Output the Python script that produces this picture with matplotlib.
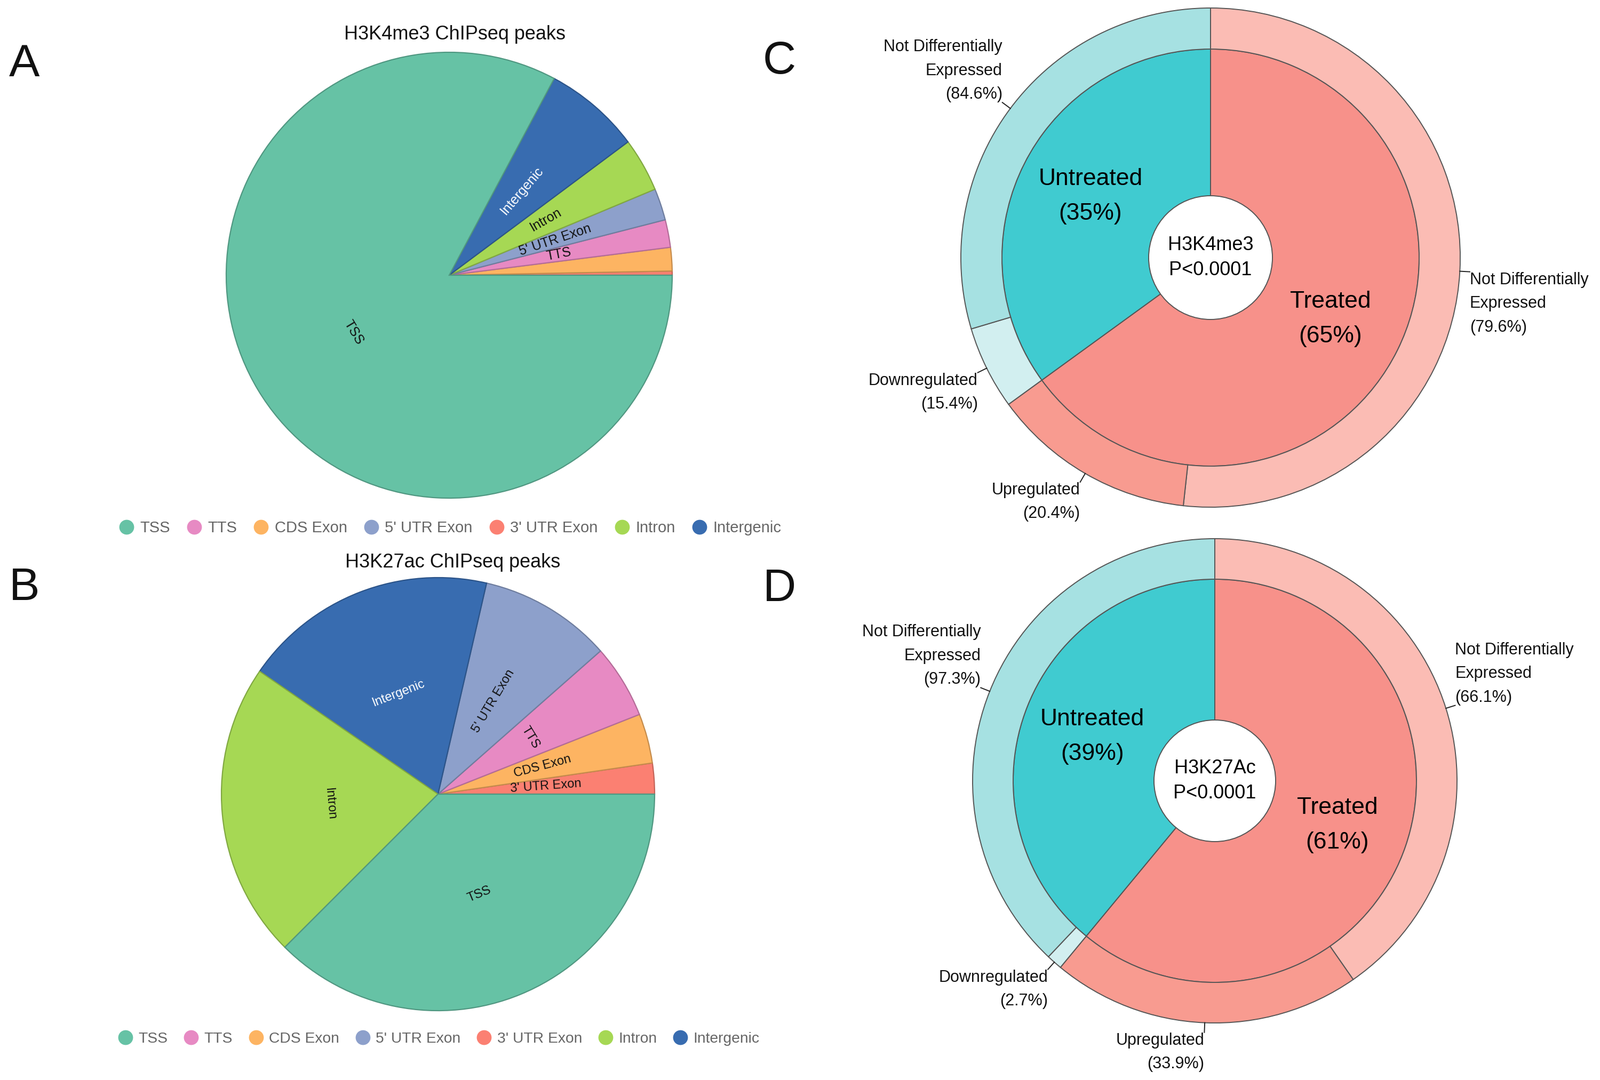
import numpy as np
import matplotlib
matplotlib.use("Agg")
import matplotlib.pyplot as plt
import matplotlib.colors as mcolors
from matplotlib.lines import Line2D
from matplotlib.patches import Circle

plt.rcParams['font.family'] = ['Liberation Sans', 'DejaVu Sans']

# ---------------- data ----------------
annotations = ['TSS', 'TTS', 'CDS Exon', "5' UTR Exon", "3' UTR Exon", 'Intron', 'Intergenic']
annotation_colors = ['#66c2a5', '#e78ac3', '#fdb462', '#8da0cb', '#fb8072', '#a6d854', '#386cb0']
h3k4me3_share = [82.8, 2.0, 1.7, 2.3, 0.3, 3.9, 7.0]
h3k27ac_share = [37.5, 5.5, 3.7, 9.9, 2.3, 22.1, 19.0]
# orientation of the in-slice label (None = slice not labelled)
h3k4me3_label_mode = ['tangential', 'radial', None, 'radial', None, 'radial', 'radial']
h3k27ac_label_mode = ['tangential', 'tangential', 'radial', 'radial', 'radial', 'tangential', 'tangential']

groups = ['Treated', 'Untreated']
h3k4me3_group_pct = [65, 35]
h3k27ac_group_pct = [61, 39]
outer_names = ['Not Differentially\nExpressed', 'Upregulated', 'Downregulated', 'Not Differentially\nExpressed']
h3k4me3_treated_split = [79.6, 20.4]     # Not DE, Upregulated
h3k4me3_untreated_split = [15.4, 84.6]   # Downregulated, Not DE
h3k27ac_treated_split = [66.1, 33.9]
h3k27ac_untreated_split = [2.7, 97.3]

W, H = 2999, 2025
fig = plt.figure(figsize=(W / 100, H / 100), dpi=100)
ax = fig.add_axes([0, 0, 1, 1])


def img(x, y):
    return x, H - y


def darker(c, f=0.78):
    r, g, b = mcolors.to_rgb(c)
    return (r * f, g * f, b * f)


def draw_pie(shares, modes, center, radius, fs, title, title_xy, legend_xy, legend_fs):
    order = sorted(range(len(shares)), key=lambda i: shares[i])
    vals = [shares[i] for i in order]
    cols = [annotation_colors[i] for i in order]
    wedges, _ = ax.pie(vals, colors=cols, startangle=0, counterclock=True,
                       center=center, radius=radius,
                       wedgeprops=dict(linewidth=1.6))
    for w, i in zip(wedges, order):
        w.set_edgecolor(darker(annotation_colors[i]))
        mode = modes[i]
        if mode is None:
            continue
        mid = (w.theta1 + w.theta2) / 2.0
        rad = np.deg2rad(mid)
        x = center[0] + 0.5 * radius * np.cos(rad)
        y = center[1] + 0.5 * radius * np.sin(rad)
        rot = mid if mode == 'radial' else mid - 90
        rot = (rot + 180) % 360 - 180
        if rot > 90:
            rot -= 180
        elif rot < -90:
            rot += 180
        color = 'white' if annotations[i] == 'Intergenic' else '#111111'
        ax.text(x, y, annotations[i], rotation=rot, rotation_mode='anchor',
                ha='center', va='center', fontsize=fs, color=color)
    ax.text(*img(*title_xy), title, ha='center', va='center', fontsize=26, color='#111111')
    handles = [Line2D([], [], marker='o', ls='', color=c, markersize=19) for c in annotation_colors]
    fig.legend(handles, annotations, loc='center',
               bbox_to_anchor=(legend_xy[0] / W, 1 - legend_xy[1] / H),
               ncol=7, frameon=False, fontsize=legend_fs, handlelength=0.9,
               handletextpad=0.42, columnspacing=1.1, labelcolor='#666666')


def draw_donut(center, r_in, r_out, r_hole, group_pct, t_split, u_split, center_text):
    edge = '#555555'
    inner_cols = ['#f7918a', '#40cbd0']
    outer_cols = ['#fbbcb4', '#f89b90', '#d2eff0', '#a6e1e2']
    inner, _ = ax.pie(group_pct, colors=inner_cols, startangle=90, counterclock=False,
                      center=center, radius=r_in,
                      wedgeprops=dict(edgecolor=edge, linewidth=1.4))
    outer_vals = [group_pct[0] * t_split[0] / 100, group_pct[0] * t_split[1] / 100,
                  group_pct[1] * u_split[0] / 100, group_pct[1] * u_split[1] / 100]
    outer_pcts = [t_split[0], t_split[1], u_split[0], u_split[1]]
    outer, _ = ax.pie(outer_vals, colors=outer_cols, startangle=90, counterclock=False,
                      center=center, radius=r_out,
                      wedgeprops=dict(width=r_out - r_in, edgecolor=edge, linewidth=1.4))
    ax.add_patch(Circle(center, r_hole, facecolor='white', edgecolor=edge, linewidth=1.4, zorder=5))
    ax.text(center[0], center[1], center_text, ha='center', va='center', fontsize=26,
            linespacing=1.43, zorder=6)
    for w, g, p in zip(inner, groups, group_pct):
        mid = np.deg2rad((w.theta1 + w.theta2) / 2.0)
        x = center[0] + 0.646 * r_in * np.cos(mid)
        y = center[1] + 0.646 * r_in * np.sin(mid)
        ax.text(x, y, f"{g}\n({p}%)", ha='center', va='center', fontsize=32,
                linespacing=1.76, zorder=6)
    for w, name, p in zip(outer, outer_names, outer_pcts):
        mid = np.deg2rad((w.theta1 + w.theta2) / 2.0)
        c, s = np.cos(mid), np.sin(mid)
        x0, y0 = center[0] + r_out * c, center[1] + r_out * s
        x1, y1 = center[0] + 1.04 * r_out * c, center[1] + 1.04 * r_out * s
        ax.plot([x0, x1], [y0, y1], color='#222222', lw=1.4)
        ha = 'left' if c > 0 else 'right'
        va = 'bottom' if s > 0 else 'top'
        ax.text(x1, y1, f"{name}\n({p}%)", ha=ha, va=va, fontsize=22,
                linespacing=1.63, color='#111111', multialignment=ha)


draw_pie(h3k4me3_share, h3k4me3_label_mode, img(842, 516), 418, 18,
         'H3K4me3 ChIPseq peaks', (853, 65), (844, 990), 21)
draw_pie(h3k27ac_share, h3k27ac_label_mode, img(821, 1489), 406, 17,
         'H3K27ac ChIPseq peaks', (849, 1054), (823, 1948), 20.3)

draw_donut(img(2269, 483), 391, 468, 116, h3k4me3_group_pct,
           h3k4me3_treated_split, h3k4me3_untreated_split, 'H3K4me3\nP<0.0001')
draw_donut(img(2277, 1464), 378, 454, 114, h3k27ac_group_pct,
           h3k27ac_treated_split, h3k27ac_untreated_split, 'H3K27Ac\nP<0.0001')

for letter, (x, y) in zip('ABCD', [(46, 121), (46, 1103), (1461, 116), (1461, 1105)]):
    ax.text(*img(x, y), letter, ha='center', va='center', fontsize=62, color='#111111')

ax.set_xlim(0, W)
ax.set_ylim(0, H)
ax.set_aspect('equal')
ax.axis('off')
fig.savefig('out.png', dpi=100, facecolor='white')
